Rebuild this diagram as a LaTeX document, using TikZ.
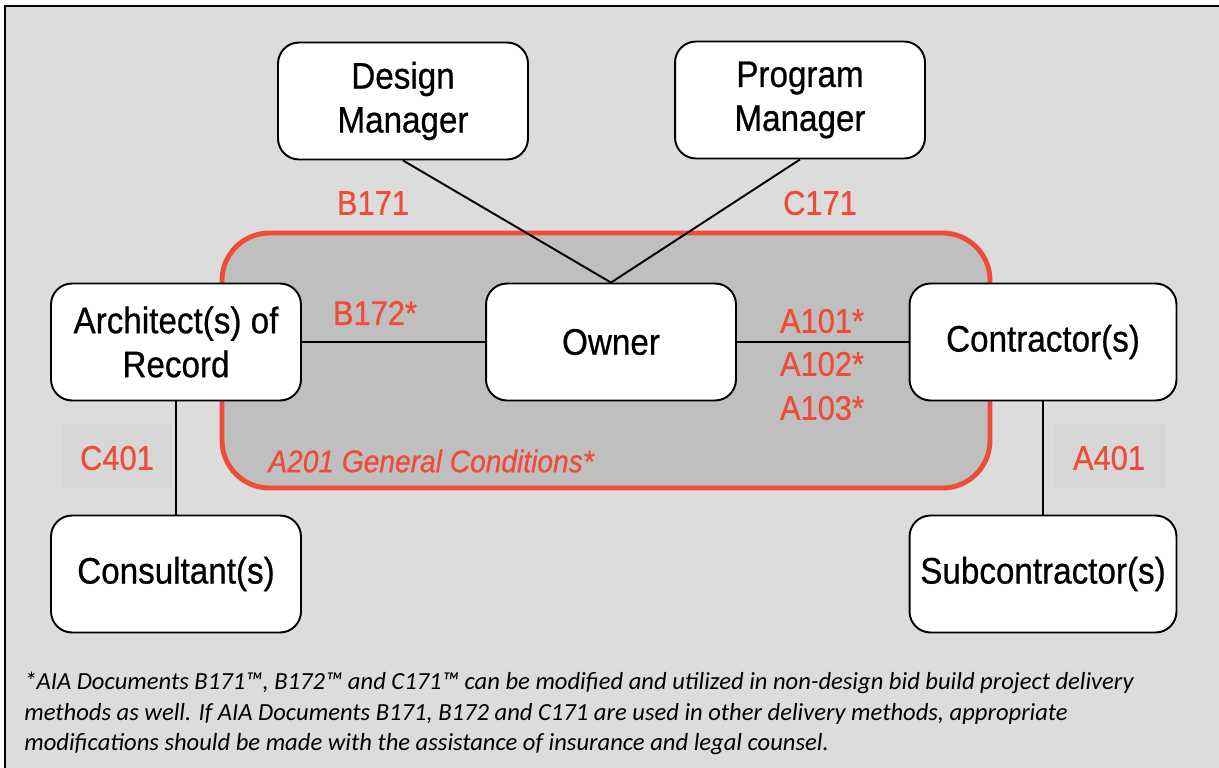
\documentclass[tikz,border=0pt]{standalone}
\usepackage{fontspec}
\setmainfont{Liberation Sans}[FakeStretch=0.9,FakeBold=0.6]
\newfontfamily\notefont{Carlito}
\usetikzlibrary{shapes}

\definecolor{bggray}{HTML}{DCDCDC}
\definecolor{zonegray}{HTML}{BFBFBF}
\definecolor{tagbg}{HTML}{D7D7D7}
\definecolor{aiared}{HTML}{F04B36}

\begin{document}
\begin{tikzpicture}[x=0.02cm,y=-0.02cm]
	\tikzstyle{party}=[draw=black,line width=1.1pt,fill=white,rounded corners=0.42cm,
		minimum width=5cm,minimum height=2.34cm,align=center,
		font=\fontsize{21}{25}\selectfont]
	\tikzstyle{doc}=[text=aiared,font=\fontsize{19.5}{25}\selectfont,inner sep=0pt]
	\tikzstyle{link}=[line width=1.1pt]
	\useasboundingbox (0,0) rectangle (1219,767);
	% frame
	\draw [fill=bggray,line width=1.2pt] (5,6) rectangle (1240,790);
	% general conditions zone
	\draw [aiared,fill=zonegray,line width=2.8pt,rounded corners=0.95cm] (222,233) rectangle (990,488);
	\draw (268,461) node [doc,anchor=west,font=\fontsize{17.8}{25}\selectfont\itshape] {A201 General Conditions*};
	% tag boxes
	\fill [tagbg] (62,424) rectangle (172,488);
	\fill [tagbg] (1054,424) rectangle (1165,488);
	% parties
	\node [party] (dm) at (403,101) {Design\\Manager};
	\node [party] (pm) at (800,100) {Program\\Manager};
	\node [party] (arch) at (176,342) {Architect(s) of\\Record};
	\node [party] (owner) at (611,342) {Owner};
	\node [party,minimum width=5.34cm] (contr) at (1043,342) {Contractor(s)};
	\node [party] (cons) at (176,574) {Consultant(s)};
	\node [party,minimum width=5.34cm] (sub) at (1043,574) {Subcontractor(s)};
	% agreements
	\draw [link] (dm.south) -- (owner.north);
	\draw [link] (pm.south) -- (owner.north);
	\draw [link] (arch.east) -- (owner.west);
	\draw [link] (owner.east) -- (contr.west);
	\draw [link] (arch.south) -- (cons.north);
	\draw [line width=0.7pt] (contr.south) -- (sub.north);
	\node [doc] (b171) at (373,203) {B171};
	\node [doc] (c171) at (820,203) {C171};
	\node [doc] (b172) at (375,313) {B172*};
	\node [doc] (a101) at (822,321) {A101*};
	\node [doc] (a102) at (822,364) {A102*};
	\node [doc] (a103) at (822,408) {A103*};
	\node [doc] (c401) at (117,458) {C401};
	\node [doc] (a401) at (1109,458) {A401};
	% footnote
	\node [anchor=north west,align=left,inner sep=0pt,
		font=\notefont\itshape\fontsize{14}{17.4}\selectfont] (note) at (24,672)
		{*AIA Documents B171™, B172™ and C171™ can be modified and utilized in non-design bid build project delivery\\
		methods as well. If AIA Documents B171, B172 and C171 are used in other delivery methods, appropriate\\
		modifications should be made with the assistance of insurance and legal counsel.};
\end{tikzpicture}
\end{document}
